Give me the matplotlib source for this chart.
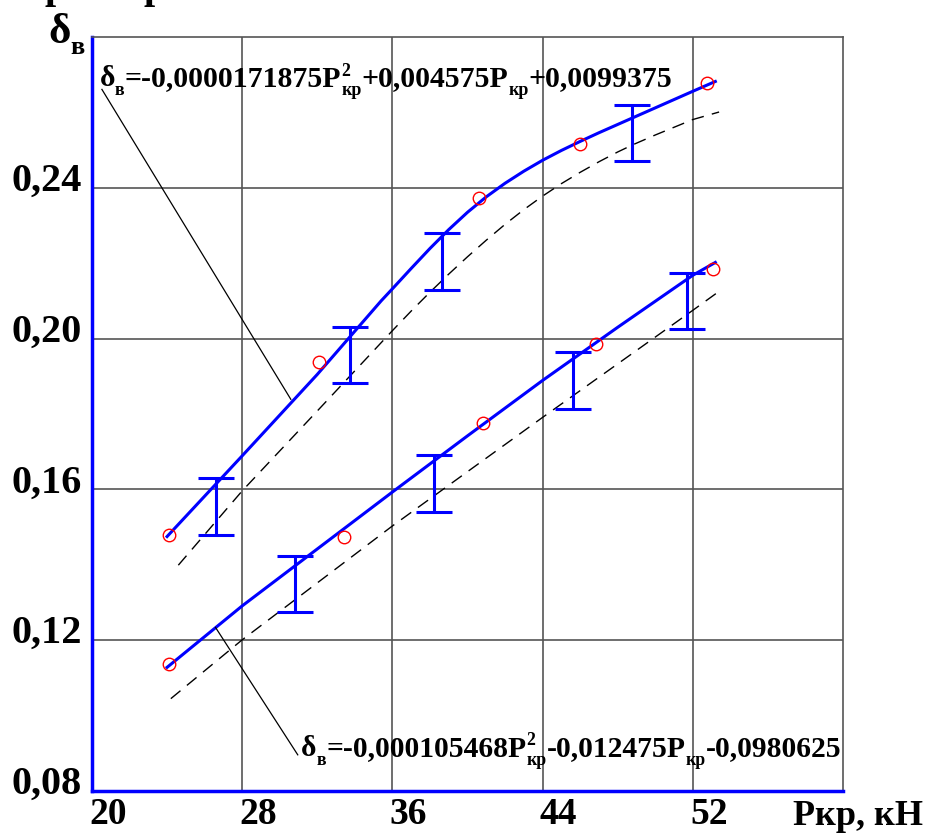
import matplotlib
matplotlib.use("Agg")
import matplotlib.pyplot as plt
import matplotlib.transforms as mtransforms

plt.rcParams['font.family'] = ['Liberation Serif', 'DejaVu Serif']
plt.rcParams['font.weight'] = 'bold'

# measured points (red circles)
upper_pts_x = [24.1, 32.1, 40.6, 46.0, 52.75]
upper_pts_y = [0.1480, 0.1938, 0.2374, 0.2516, 0.2677]
lower_pts_x = [24.1, 33.4, 40.8, 46.85, 53.05]
lower_pts_y = [0.1137, 0.1474, 0.1777, 0.1986, 0.2185]

# fitted curves (solid blue)
upper_fit_x = [24.0, 28.0, 32.0, 35.4, 36.0, 37.0, 38.0, 39.0, 40.0, 41.0, 42.0, 43.0,
               44.0, 45.0, 46.0, 47.0, 48.0, 50.0, 52.0, 53.2]
upper_fit_y = [0.1475, 0.1689, 0.1905, 0.2100, 0.2132, 0.2186, 0.2239, 0.2289, 0.2335, 0.2376,
               0.2412, 0.2444, 0.2473, 0.2499, 0.2523, 0.2546, 0.2568, 0.2612, 0.2656, 0.2682]
lower_fit_x = [24.0, 28.0, 32.0, 36.0, 40.0, 44.0, 48.0, 52.0, 53.2]
lower_fit_y = [0.1128, 0.1291, 0.1442, 0.1593, 0.1742, 0.1889, 0.2030, 0.2168, 0.2202]

# dashed curves
upper_dash_x = [24.6, 28.0, 32.0, 36.0, 37.0, 38.0, 39.0, 40.0, 41.0, 42.0, 43.0, 44.0,
                45.0, 46.0, 47.0, 48.0, 48.8, 50.0, 52.0, 53.4]
upper_dash_y = [0.1399, 0.1596, 0.1808, 0.2021, 0.2073, 0.2123, 0.2171, 0.2217, 0.2261, 0.2303,
                0.2342, 0.2378, 0.2411, 0.2441, 0.2469, 0.2495, 0.2514, 0.2540, 0.2581, 0.2601]
lower_dash_x = [24.2, 28.0, 32.0, 36.0, 40.0, 44.0, 48.0, 52.0, 53.5]
lower_dash_y = [0.1045, 0.1201, 0.1352, 0.1503, 0.1647, 0.1791, 0.1933, 0.2075, 0.2129]

# confidence intervals
upper_err_x = [26.63, 33.72, 38.63, 48.74]
upper_err_y = [0.1555, 0.1957, 0.2204, 0.2545]
lower_err_x = [30.8, 38.19, 45.64, 51.7]
lower_err_y = [0.1349, 0.1615, 0.1889, 0.2100]
err_half = 0.0075

x_ticks = [20, 28, 36, 44, 52]
x_ticklabels = ['20', '28', '36', '44', '52']
y_ticks = [0.08, 0.12, 0.16, 0.20, 0.24]
y_ticklabels = ['0,08', '0,12', '0,16', '0,20', '0,24']

upper_eq = [('δ', 'n'), ('в', 'sub'), ('=-0,0000171875P', 'n'), (('2', 'кр'), 'supsub'),
            ('+0,004575P', 'n'), ('кр', 'sub'), ('+0,0099375', 'n')]
lower_eq = [('δ', 'n'), ('в', 'sub'), ('=-0,000105468P', 'n'), (('2', 'кр'), 'supsub'),
            ('-0,012475P', 'n'), ('кр', 'sub'), ('-0,0980625', 'n')]

fig = plt.figure(figsize=(9.27, 8.33), dpi=100)
ax = fig.add_axes([0.0992, 0.0504, 0.8102, 0.9052])
ax.set_xlim(20, 60)
ax.set_ylim(0.08, 0.28)

ax.set_xticks(x_ticks)
ax.set_xticklabels(x_ticklabels, fontsize=27, fontweight='bold')
ax.set_yticks(y_ticks)
ax.set_yticklabels(y_ticklabels, fontsize=29, fontweight='bold')
ax.tick_params(length=0)
ax.tick_params(axis='x', pad=4)
ax.tick_params(axis='y', pad=7)
for lab in ax.get_xticklabels():
    lab.set_transform(lab.get_transform() + mtransforms.ScaledTranslation(0.16, 0, fig.dpi_scale_trans))
for lab in ax.get_yticklabels():
    lab.set_verticalalignment('baseline')
    lab.set_transform(lab.get_transform() + mtransforms.ScaledTranslation(0, -0.03, fig.dpi_scale_trans))

ax.grid(True, color='#555555', linewidth=1.2)
ax.set_axisbelow(True)
for s in ['top', 'right']:
    ax.spines[s].set_color('#555555')
    ax.spines[s].set_linewidth(1.2)
for s in ['left', 'bottom']:
    ax.spines[s].set_color('#0000ff')
    ax.spines[s].set_linewidth(2.5)

ax.plot(upper_dash_x, upper_dash_y, color='black', lw=1.0, dashes=(9, 6))
ax.plot(lower_dash_x, lower_dash_y, color='black', lw=1.0, dashes=(9, 6))
ax.plot(upper_fit_x, upper_fit_y, color='#0000ff', lw=2.2)
ax.plot(lower_fit_x, lower_fit_y, color='#0000ff', lw=2.2)
ax.errorbar(upper_err_x, upper_err_y, yerr=err_half, fmt='none', ecolor='#0000ff',
            elinewidth=2.2, capsize=13, capthick=2.2)
ax.errorbar(lower_err_x, lower_err_y, yerr=err_half, fmt='none', ecolor='#0000ff',
            elinewidth=2.2, capsize=13, capthick=2.2)
ax.plot(upper_pts_x, upper_pts_y, 'o', mfc='none', mec='#ff0000', ms=9, mew=1)
ax.plot(lower_pts_x, lower_pts_y, 'o', mfc='none', mec='#ff0000', ms=9, mew=1)

# leader lines
ax.plot([20.53, 30.59], [0.2661, 0.1839], color='black', lw=0.9)
ax.plot([26.58, 30.96], [0.1234, 0.0896], color='black', lw=0.9)


def draw_formula(x, y, parts, size):
    # lay out text pieces one after another, with sub/superscripts
    renderer = fig.canvas.get_renderer()
    px = size / 72 * fig.dpi
    dx = 0.0
    for txt, kind in parts:
        if kind == 'supsub':
            sup, sub = txt
            pieces = [(sup, 0.36 * px), (sub, -0.3 * px)]
            small = True
        elif kind == 'sub':
            pieces = [(txt, -0.3 * px)]
            small = True
        else:
            pieces = [(txt, 0.0)]
            small = False
        fs = size * 0.6 if small else size
        w = 0
        for s, dy in pieces:
            t = ax.text(x, y, s, fontsize=fs, fontweight='bold', va='baseline', ha='left',
                        transform=ax.transData + mtransforms.Affine2D().translate(dx, dy))
            w = max(w, t.get_window_extent(renderer).width)
        dx += w


draw_formula(20.4, 0.2669, upper_eq, 21.4)
draw_formula(31.15, 0.0893, lower_eq, 21.3)

# axis titles
fig.text(48 / 927, 1 - 43 / 833, 'δ', fontsize=31, fontweight='bold', va='baseline', ha='left')
fig.text(70 / 927, 1 - 54 / 833, 'в', fontsize=19, fontweight='bold', va='baseline', ha='left')
fig.text(793 / 927, 1 - 825 / 833, 'Pкр, кН', fontsize=26, fontweight='bold', va='baseline', ha='left')

# cut-off text at the top edge
fig.text(56 / 927, 1.002, 'р', fontsize=29, fontweight='bold', va='baseline', ha='center')
fig.text(155 / 927, 1.002, 'р', fontsize=29, fontweight='bold', va='baseline', ha='center')

fig.savefig('out.png', dpi=100)
